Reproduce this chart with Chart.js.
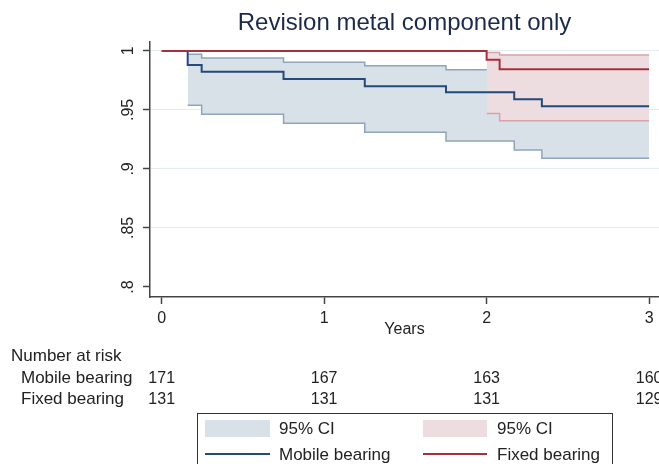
<!DOCTYPE html>
<html>
<head>
<meta charset="utf-8">
<script src="https://cdn.jsdelivr.net/npm/chart.js@4/dist/chart.umd.min.js"></script>
<style>
body { margin: 0; background: #fff; }
</style>
</head>
<body>
<canvas id="km" width="659" height="464"></canvas>
<script>
// KM estimates
var mobileT   = [0, 0.16, 0.246, 0.75, 1.25, 1.75, 2.17, 2.34, 3.0];
var mobileS   = [1, 0.988, 0.9824, 0.9762, 0.970, 0.965, 0.959, 0.953, 0.953];
var mobileCiT = [0.16, 0.246, 0.75, 1.25, 1.75, 2.17, 2.34, 3.0];
var mobileHi  = [0.9972, 0.994, 0.9904, 0.9875, 0.984, 0.979, 0.975, 0.975];
var mobileLo  = [0.954, 0.9463, 0.9386, 0.931, 0.9236, 0.916, 0.909, 0.909];
var fixedT    = [0, 2.0, 2.08, 3.0];
var fixedS    = [1, 0.9924, 0.9844, 0.9844];
var fixedCiT  = [2.0, 2.08, 3.0];
var fixedHi   = [0.9986, 0.9966, 0.9966];
var fixedLo   = [0.947, 0.9408, 0.9408];

var xTicks = [0, 1, 2, 3];
var yTicks = [0.8, 0.85, 0.9, 0.95, 1];
var yTickLabels = ['.8', '.85', '.9', '.95', '1'];

// number at risk
var riskTimes  = [0, 1, 2, 3];
var mobileRisk = [171, 167, 163, 160];
var fixedRisk  = [131, 131, 131, 129];

var blueLine = '#234a7a', redLine = '#a6303c';
var blueFill = '#d9e1e8', blueEdge = '#8ea5bd';
var redFill = '#eedde0', redEdge = '#d8a2a9';
var txt = '#222';

function pts(xs, ys) {
    return xs.map(function(x, i) { return {x: x, y: ys[i]}; });
}

Chart.defaults.font.family = '"Liberation Sans", Arial, sans-serif';

var extras = {
    id: 'extras',
    afterDraw: function(chart) {
        var ctx = chart.ctx;
        var xs = chart.scales.x, ys = chart.scales.y;
        ctx.save();
        ctx.fillStyle = txt;

        // rotated y tick labels
        ctx.font = '16px "Liberation Sans", Arial, sans-serif';
        ctx.textAlign = 'center';
        ctx.textBaseline = 'middle';
        yTicks.forEach(function(v, i) {
            ctx.save();
            ctx.translate(129, ys.getPixelForValue(v));
            ctx.rotate(-Math.PI / 2);
            ctx.fillText(yTickLabels[i], 0, 0);
            ctx.restore();
        });

        // number at risk table
        ctx.textBaseline = 'alphabetic';
        ctx.textAlign = 'left';
        ctx.font = '17px "Liberation Sans", Arial, sans-serif';
        ctx.fillText('Number at risk', 11, 361);
        ctx.fillText('Mobile bearing', 21, 383);
        ctx.fillText('Fixed bearing', 21, 404);
        ctx.textAlign = 'center';
        ctx.font = '16px "Liberation Sans", Arial, sans-serif';
        riskTimes.forEach(function(t, i) {
            var px = xs.getPixelForValue(t);
            ctx.fillText(String(mobileRisk[i]), px, 383);
            ctx.fillText(String(fixedRisk[i]), px, 404);
        });

        // legend
        ctx.strokeStyle = '#333';
        ctx.lineWidth = 1;
        ctx.strokeRect(197.5, 413.5, 415, 60);
        ctx.fillStyle = blueFill;
        ctx.fillRect(205, 420, 65, 17);
        ctx.fillStyle = redFill;
        ctx.fillRect(423, 420, 64, 17);
        ctx.lineWidth = 2;
        ctx.strokeStyle = blueLine;
        ctx.beginPath(); ctx.moveTo(205, 454); ctx.lineTo(270, 454); ctx.stroke();
        ctx.strokeStyle = redLine;
        ctx.beginPath(); ctx.moveTo(423, 454); ctx.lineTo(487, 454); ctx.stroke();
        ctx.fillStyle = txt;
        ctx.textAlign = 'left';
        ctx.font = '17px "Liberation Sans", Arial, sans-serif';
        ctx.fillText('95% CI', 279, 434);
        ctx.fillText('95% CI', 497, 434);
        ctx.fillText('Mobile bearing', 279, 460);
        ctx.fillText('Fixed bearing', 497, 460);
        ctx.restore();
    }
};

new Chart(document.getElementById('km').getContext('2d'), {
    type: 'line',
    data: {
        datasets: [
            { label: 'Fixed bearing', data: pts(fixedT, fixedS), borderColor: redLine, borderWidth: 2, stepped: 'before', fill: false },
            { label: 'Mobile bearing', data: pts(mobileT, mobileS), borderColor: blueLine, borderWidth: 2, stepped: 'before', fill: false },
            { label: 'Fixed upper', data: pts(fixedCiT, fixedHi), borderColor: redEdge, borderWidth: 1.5, stepped: 'before', fill: false },
            { label: 'Fixed lower', data: pts(fixedCiT, fixedLo), borderColor: redEdge, borderWidth: 1.5, stepped: 'before', fill: '-1', backgroundColor: redFill },
            { label: 'Mobile upper', data: pts(mobileCiT, mobileHi), borderColor: blueEdge, borderWidth: 1.5, stepped: 'before', fill: false },
            { label: 'Mobile lower', data: pts(mobileCiT, mobileLo), borderColor: blueEdge, borderWidth: 1.5, stepped: 'before', fill: '-1', backgroundColor: blueFill }
        ]
    },
    options: {
        responsive: false,
        animation: false,
        layout: { padding: { left: 0, right: 0, top: 0, bottom: 117 } },
        elements: { point: { radius: 0 } },
        plugins: {
            legend: { display: false },
            tooltip: { enabled: false },
            title: {
                display: true,
                fullSize: false,
                text: 'Revision metal component only',
                color: '#1c2a4a',
                font: { size: 24, weight: 'normal' },
                padding: { top: 9, bottom: 4 }
            }
        },
        scales: {
            x: {
                type: 'linear',
                min: -0.072,
                max: 3.061,
                afterBuildTicks: function(s) { s.ticks = xTicks.map(function(v) { return {value: v}; }); },
                afterFit: function(s) { s.height = 50; },
                ticks: { color: txt, font: { size: 16 }, padding: 5 },
                grid: { color: 'rgba(0,0,0,0)', tickColor: '#444', tickLength: 7, tickWidth: 1.5 },
                border: { color: '#444', width: 1.5 },
                title: { display: true, text: 'Years', color: txt, font: { size: 16 }, padding: { top: 0, bottom: 8 } }
            },
            y: {
                min: 0.7915,
                max: 1.0077,
                afterBuildTicks: function(s) { s.ticks = yTicks.map(function(v) { return {value: v}; }); },
                afterFit: function(s) { s.width = 150; },
                ticks: { display: false },
                grid: {
                    color: function(c) { return c.tick && c.tick.value === 0.8 ? 'rgba(0,0,0,0)' : '#e3ecef'; },
                    tickColor: '#444', tickLength: 7, tickWidth: 1.5
                },
                border: { color: '#444', width: 1.5 }
            }
        }
    },
    plugins: [extras]
});
</script>
</body>
</html>
